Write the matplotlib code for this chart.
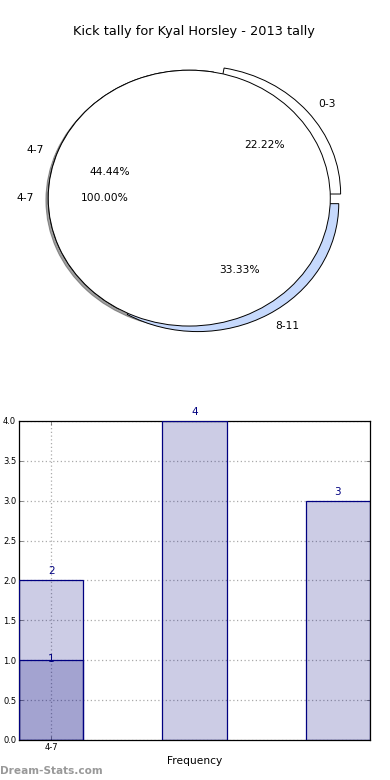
import matplotlib
matplotlib.use('Agg')
import matplotlib.pyplot as plt

# pie data
pie_labels = ['0-3', '4-7', '8-11']
pie_values = [2, 4, 3]
pie_colours = ['white', 'white', '#c6d9fd']
pie_explode = [0.05, 0, 0.05]

overlay_labels = ['4-7']
overlay_values = [1]

# bar data
bar_pos = [0, 1, 2]
bar_values = [2, 4, 3]
bar2_pos = [0]
bar2_values = [1]
tick_labels = ['4-7']

fig = plt.figure(figsize=(3.9, 7.8), dpi=100)

# top: the pie chart (old style, not forced round)
ax1 = fig.add_axes([0.0333, 0.541, 0.904, 0.410])
wp = {'linewidth': 0.7, 'edgecolor': 'black'}
wedges, texts, autotexts = ax1.pie(pie_values, labels=pie_labels, colors=pie_colours,
                                   explode=pie_explode, autopct='%.2f%%', startangle=0,
                                   labeldistance=1.1, pctdistance=0.6,
                                   wedgeprops=wp, textprops={'fontsize': 7.7})
# the exploded slices sit a little further right in the original
dx = 0.035
for i, e in enumerate(pie_explode):
    if e > 0:
        cx, cy = wedges[i].center
        wedges[i].set_center((cx + dx, cy))
        for t in (texts[i], autotexts[i]):
            px, py = t.get_position()
            t.set_position((px + dx, py))

ax1.pie(overlay_values, labels=overlay_labels, colors=['white'],
        shadow={'ox': -0.012, 'oy': -0.012, 'shade': 0.75},
        autopct='%.2f%%', startangle=0, labeldistance=1.1, pctdistance=0.6,
        wedgeprops=wp, textprops={'fontsize': 7.7})
ax1.set_aspect('auto')
ax1.set_xlim(-1.25, 1.25)
ax1.set_ylim(-1.25, 1.25)
ax1.set_title('Kick tally for Kyal Horsley - 2013 tally', fontsize=9.3, pad=1, x=0.514)

# bottom: bar chart
ax2 = fig.add_axes([0.0487, 0.0513, 0.90, 0.409])
ax2.bar(bar_pos, bar_values, width=0.45, color='navy', alpha=0.2, zorder=2)
ax2.bar(bar_pos, bar_values, width=0.45, facecolor='none', edgecolor='navy', linewidth=0.9, zorder=3)
ax2.bar(bar2_pos, bar2_values, width=0.45, color='navy', alpha=0.2, zorder=2)
ax2.bar(bar2_pos, bar2_values, width=0.45, facecolor='none', edgecolor='navy', linewidth=0.9, zorder=3)

for x, v in zip(bar_pos, bar_values):
    ax2.text(x, v + 0.05, str(v), ha='center', va='bottom', color='navy', fontsize=7.5)
for x, v in zip(bar2_pos, bar2_values):
    ax2.text(x, v - 0.05, str(v), ha='center', va='bottom', color='navy', fontsize=7.5)

ax2.set_xlim(-0.225, 2.225)
ax2.set_ylim(0, 4)
ax2.set_yticks([0, 0.5, 1, 1.5, 2, 2.5, 3, 3.5, 4])
ax2.set_yticklabels(['%.1f' % t for t in ax2.get_yticks()])
ax2.set_xticks([0])
ax2.set_xticklabels(tick_labels)
ax2.tick_params(labelsize=6, direction='in', length=3, width=0.5, pad=2,
                right=True, top=True, color='#555555')
ax2.grid(True, linestyle=(0, (1, 2)), color='#aaaaaa', linewidth=0.9, zorder=0)
ax2.set_axisbelow(True)
for s in ax2.spines.values():
    s.set_linewidth(0.9)
ax2.set_xlabel('Frequency', fontsize=7.7, labelpad=3)

fig.text(0.0, 0.005, 'Dream-Stats.com', fontsize=7.6, fontweight='bold', color='#999999',
         ha='left', va='bottom')

fig.savefig('out.png', dpi=100)
